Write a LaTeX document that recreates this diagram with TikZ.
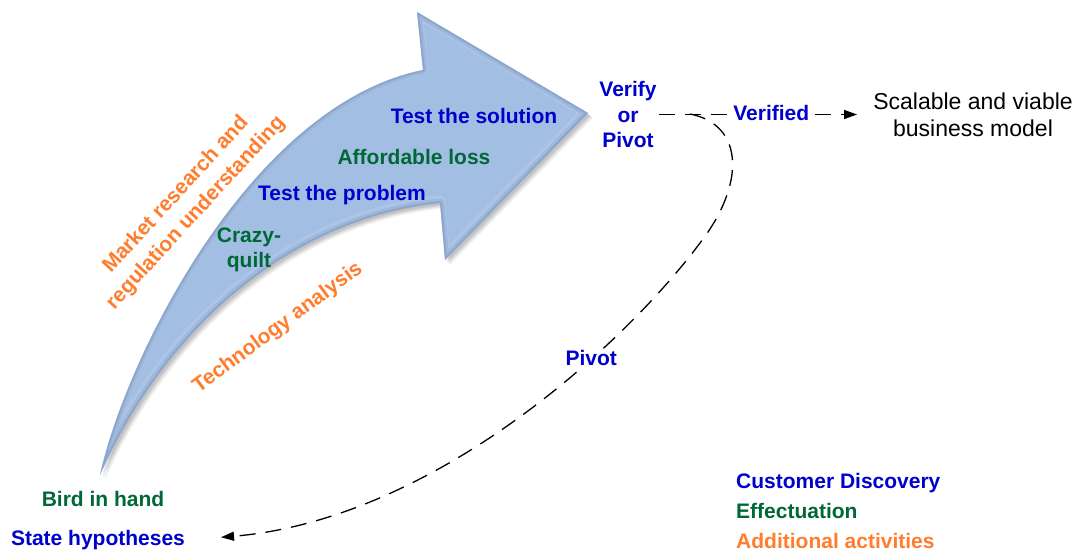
\documentclass[tikz,border=0pt]{standalone}
\usepackage{fontspec}
\setmainfont{Liberation Sans}
\usetikzlibrary{arrows.meta}

\definecolor{cdblue}{RGB}{0,0,204}
\definecolor{efgreen}{RGB}{0,104,55}
\definecolor{addorange}{RGB}{255,125,45}
\definecolor{arrowfill}{RGB}{163,190,227}
\definecolor{arrowedge}{RGB}{105,135,182}

\tikzset{
  lbl/.style={font=\fontsize{21}{25.5}\selectfont\bfseries, inner sep=2pt, align=center},
  cdtext/.style={lbl, text=cdblue},
  eftext/.style={lbl, text=efgreen},
  addtext/.style={lbl, text=addorange},
  plaintext/.style={font=\fontsize{23}{27}\selectfont, align=center, inner sep=2pt},
  dashline/.style={black, line width=1.3pt, dash pattern=on 16pt off 10pt},
  arrowtip/.style={-{Triangle[length=13pt,width=9pt]}},
}

% outline of the big curved process arrow
\def\bigarrow{(100,475) .. controls (125,360) and (250,105) .. (423,70)
  -- (417,12) -- (588,113) -- (445,260) -- (440,203)
  .. controls (280,220) and (160,340) .. (100,475) -- cycle}

\begin{document}
\begin{tikzpicture}[x=1pt,y=-1pt]
\useasboundingbox (0,0) rectangle (1076,551);

% soft drop shadow
\foreach \d/\o in {5/0.05,4/0.06,3/0.07,2/0.08}{
  \fill[black, opacity=\o, shift={(\d,\d)}] \bigarrow;
}
% arrow body with a bevelled rim
\fill[arrowfill] \bigarrow;
\begin{scope}
  \clip \bigarrow;
  \draw[arrowedge, line width=9pt, opacity=0.25, line join=round] \bigarrow;
  \draw[arrowedge, line width=4pt, opacity=0.45, line join=round] \bigarrow;
  \draw[white, line width=13pt, opacity=0.10, line join=round, shift={(-1,-1)}] \bigarrow;
\end{scope}

% labels inside and around the arrow
\node[cdtext, anchor=base] (tsol)  at (474,123.5) {Test the solution};
\node[eftext, anchor=base] (aff)   at (414,164.5) {Affordable loss};
\node[cdtext, anchor=base] (tprob) at (342,200.5) {Test the problem};
\node[eftext] (crazy) at (249,250) {Crazy-\\quilt};
\node[addtext, rotate=47.5, font=\fontsize{21}{27}\selectfont\bfseries, inner sep=0pt] (mkt) at (186,204) {Market research and\\regulation understanding};
\node[addtext, rotate=36.5, inner sep=0pt] (tech) at (278,328) {Technology analysis};

% start and end points
\node[eftext, anchor=base] (bird)  at (103,506.5) {Bird in hand};
\node[cdtext, anchor=base] (state) at (98,545.5) {State hypotheses};
\node[cdtext] (verify) at (628,114.5) {Verify\\or\\Pivot};
\node[plaintext] (scal) at (973,114.5) {Scalable and viable\\business model};

% verified branch
\draw[dashline, arrowtip, shorten >=14pt] (verify.east) --
  node[pos=0.53, cdtext, fill=white, inner sep=3pt, yshift=2pt] (verified) {Verified} (scal.west);

% pivot branch back to the hypotheses
\coordinate (split) at (690,114);
\draw[dashline, arrowtip, shorten >=34pt] (split)
  .. controls (745,125) and (745,185) .. (700,243)
  .. controls (620,350) and (430,520) ..
  node[pos=0.32, cdtext, fill=white, inner sep=1pt] (pivot) {Pivot} (state.east);

% legend
\node[cdtext, anchor=base west, inner sep=0pt] (lg1) at (736,488.5) {Customer Discovery};
\node[eftext, anchor=base west, inner sep=0pt] (lg2) at (736,518.5) {Effectuation};
\node[addtext, anchor=base west, inner sep=0pt] (lg3) at (736,548.5) {Additional activities};
\end{tikzpicture}
\end{document}
